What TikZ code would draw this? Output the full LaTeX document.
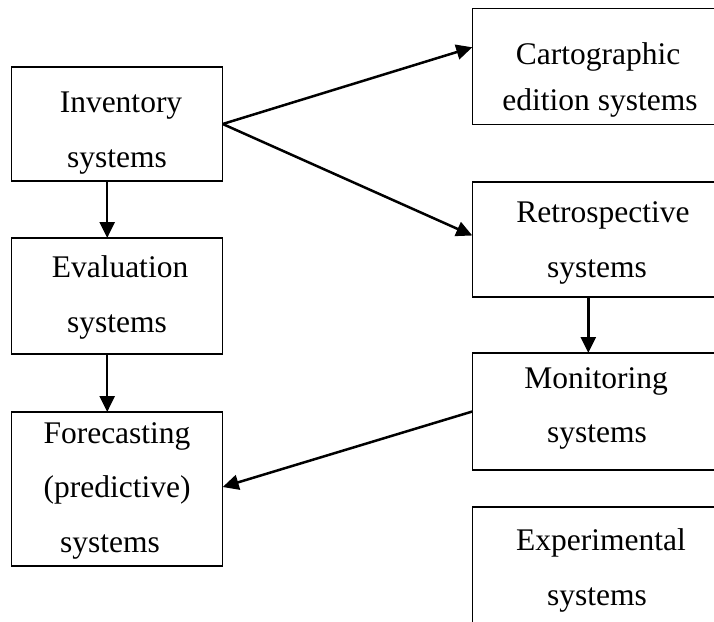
\documentclass[tikz,border=0pt]{standalone}
\usepackage{fontspec}
\setmainfont{Liberation Serif}
\usetikzlibrary{arrows.meta}
\tikzset{
  box/.style={draw, line width=1.5pt, inner sep=0pt, outer sep=0pt, anchor=north west},
  txt/.style={anchor=base, inner sep=0pt, font=\fontsize{31.5}{38}\selectfont},
  arr/.style={line width=2.5pt, -{Triangle[length=16pt,width=15pt]}}
}
\begin{document}
\begin{tikzpicture}[x=1pt,y=-1pt]
\useasboundingbox (0,0) rectangle (714,621);
\clip (0,0) rectangle (714,621);
\fill[white] (0,0) rectangle (714,621);
% left column
\node[box, minimum width=211pt, minimum height=114pt] (inv) at (11.7,67) {};
\node[box, minimum width=211pt, minimum height=116pt] (eva) at (11.7,238) {};
\node[box, minimum width=211pt, minimum height=154pt] (fore) at (11.7,412) {};
% right column
\node[box, minimum width=256pt, minimum height=116pt] (carto) at (472.3,8.3) {};
\node[box, minimum width=256pt, minimum height=115pt] (retro) at (472.3,182) {};
\node[box, minimum width=256pt, minimum height=117pt] (mon) at (472.3,353) {};
\node[box, minimum width=256pt, minimum height=140pt] (exper) at (472.3,507) {};
% texts
\node[txt] (t1a) at (121,112) {Inventory};
\node[txt] (t1b) at (117,167) {systems};
\node[txt] (t2a) at (120,277) {Evaluation};
\node[txt] (t2b) at (117,332) {systems};
\node[txt] (t3a) at (117,443) {Forecasting};
\node[txt] (t3b) at (117,497) {(predictive)};
\node[txt] (t3c) at (110,552) {systems};
\node[txt] (t4a) at (598,64) {Cartographic};
\node[txt] (t4b) at (600,110) {edition systems};
\node[txt] (t5a) at (603,222) {Retrospective};
\node[txt] (t5b) at (597,277) {systems};
\node[txt] (t6a) at (596,388) {Monitoring};
\node[txt] (t6b) at (597,442) {systems};
\node[txt] (t7a) at (601,550) {Experimental};
\node[txt] (t7b) at (597,605) {systems};
% connectors
\draw[arr] ([xshift=-10pt]inv.south) -- ([xshift=-10pt]eva.north);
\draw[arr] ([xshift=-10pt]eva.south) -- ([xshift=-10pt]fore.north);
\draw[arr] (inv.east) -- ([yshift=19pt]carto.west);
\draw[arr] (inv.east) -- ([yshift=4pt]retro.west);
\draw[arr] ([xshift=-12pt]retro.south) -- ([xshift=-12pt]mon.north);
\draw[arr] (mon.west) -- ([yshift=2pt]fore.east);
\end{tikzpicture}
\end{document}
